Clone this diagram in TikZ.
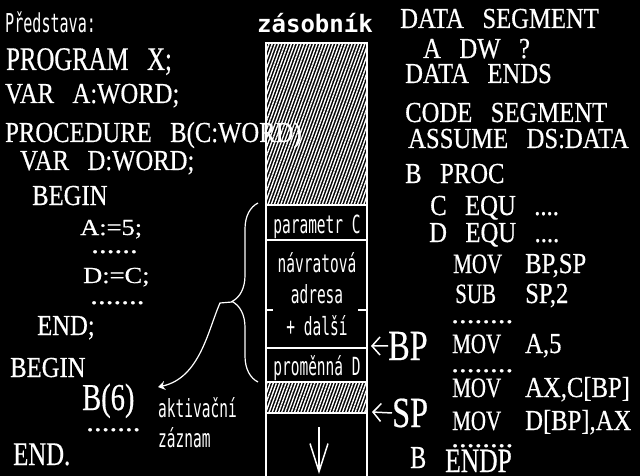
\documentclass[tikz,border=0pt]{standalone}
\usepackage{fontspec}
\usepackage{tikz}
\usetikzlibrary{decorations.pathreplacing, arrows.meta, patterns.meta}

\newfontfamily\serA[FakeStretch=0.75,FakeBold=0.5,WordSpace=3]{Liberation Serif}
\newfontfamily\serB[FakeStretch=0.85,FakeBold=0.5,WordSpace=3]{Liberation Serif}
\newfontfamily\serC[FakeStretch=1.15,FakeBold=0.5]{Liberation Serif}
\newfontfamily\lblfont[FakeStretch=0.58]{DejaVu Sans Mono}
\newfontfamily\stackfont{DejaVu Sans Mono}

\begin{document}
\begin{tikzpicture}[x=1pt, y=1pt, color=white,
		codeA/.style={anchor=base west, inner sep=0pt, font=\serA\fontsize{33}{33}\selectfont},
		codeB/.style={anchor=base west, inner sep=0pt, font=\serB\fontsize{29}{29}\selectfont},
		codeC/.style={anchor=base west, inner sep=0pt, font=\serC\fontsize{23}{23}\selectfont},
		mnem/.style={anchor=base west, inner sep=0pt, font=\serA\fontsize{28}{28}\selectfont},
		dots/.style={anchor=base west, inner sep=0pt, font=\serC\fontsize{27}{27}\selectfont},
		reg/.style={anchor=base west, inner sep=0pt, font=\serA\fontsize{43}{43}\selectfont},
		lbl/.style={anchor=base, inner sep=0pt, font=\lblfont\fontsize{25}{25}\selectfont},
		cellline/.style={line width=2pt},
		hatch/.style={pattern={Lines[angle=70, distance=3pt, line width=1.4pt]}, pattern color=white},
		ptr/.style={-{Straight Barb[length=8pt, width=18pt]}, line width=1.5pt},
		link/.style={-{Stealth[length=7pt, width=9pt]}, line width=1.2pt}
		]
		% Black screen
		\fill[black] (0,0) rectangle (640,-476);
		\useasboundingbox (0,0) rectangle (640,-476);
		% Pascal program
		\node[lbl, anchor=base west, font=\lblfont\fontsize{26}{26}\selectfont] (intro) at (5,-33) {Představa:};
		\foreach \txt/\x/\y/\sty [count=\i] in {
			{PROGRAM X;}/6/70/codeA,
			{VAR A:WORD;}/5/103/codeB,
			{PROCEDURE B(C:WORD)}/5/142/codeB,
			{VAR D:WORD;}/20/170/codeB,
			{BEGIN}/32/205/codeB,
			{A:=5;}/80/235/codeC,
			{D:=C;}/83/283/codeC,
			{END;}/37/335/codeB,
			{BEGIN}/10/377/codeB,
			{END.}/13/465/codeA} {
			\node[\sty] (pas\i) at (\x,-\y) {\txt};
		}
		\node[codeA, font=\serA\fontsize{38}{38}\selectfont] (call) at (82,-410) {B(6)};
		% Dotted gaps
		\foreach \x/\y/\txt [count=\i] in {91/253/{......}, 90/304/{.......}, 86/431/{.......},
			451/323/{........}, 451/372/{........}, 451/447/{........}} {
			\node[dots] (gap\i) at (\x,-\y) {\txt};
		}
		% Assembler version
		\foreach \txt/\x/\y [count=\i] in {
			{DATA SEGMENT}/400/28,
			{A DW ?}/423/58,
			{DATA ENDS}/405/83,
			{CODE SEGMENT}/405/122,
			{ASSUME DS:DATA}/408/148,
			{B PROC}/405/183,
			{C EQU ....}/430/215,
			{D EQU ....}/429/242} {
			\node[codeB] (asm\i) at (\x,-\y) {\txt};
		}
		\foreach \m/\op/\x/\y [count=\i] in {MOV/{BP,SP}/453/273, SUB/{SP,2}/455/303, MOV/{A,5}/452/353,
			MOV/{AX,C[BP]}/452/397, MOV/{D[BP],AX}/452/430} {
			\node[mnem] (mn\i) at (\x,-\y) {\m};
			\node[codeB] (op\i) at (525,-\y) {\op};
		}
		\node[codeA, font=\serA\fontsize{32}{32}\selectfont] (endB) at (410,-468) {B};
		\node[codeA, font=\serA\fontsize{34}{34}\selectfont] (endp) at (445,-472) {ENDP};
		% Stack
		\node[anchor=base west, inner sep=0pt, font=\stackfont\bfseries\fontsize{24}{24}\selectfont] (title) at (257,-33) {zásobník};
		\draw[line width=1.5pt] (266,-476) -- (266,-43) -- (367,-43) -- (367,-476);
		\fill[hatch] (267,-45) rectangle (366,-204);
		\fill[hatch] (267,-383) rectangle (366,-412);
		\foreach \y in {205,240,348,382,413}
			\draw[cellline] (266,-\y) -- (367,-\y);
		\draw[line width=1.5pt] (266,-310) -- (273,-310) (358,-310) -- (367,-310);
		\draw[-{Straight Barb[length=28pt, width=18pt]}, line width=1.5pt] (319,-427) -- (319,-474);
		\node[lbl] (cellC) at (317,-233) {parametr C};
		\node[lbl] (ret1) at (317,-272) {návratová};
		\node[lbl] (ret2) at (317,-303) {adresa};
		\node[lbl] (ret3) at (317,-335) {+ další};
		\node[lbl] (cellD) at (317,-375) {proměnná D};
		% Registers
		\node[reg] (BP) at (388,-360) {BP};
		\node[reg] (SP) at (392,-427) {SP};
		\coordinate (bpTip) at (371,-346);
		\coordinate (spTip) at (372,-412);
		\draw[ptr] (BP.west) -- (bpTip);
		\draw[ptr] (SP.west) -- (spTip);
		% Activation record
		\draw[decorate, decoration={brace, amplitude=26pt, aspect=0.45}, line width=1.2pt] (258,-382) -- (258,-203);
		\node[lbl, anchor=base west] (akt) at (158,-417) {aktivační};
		\node[lbl, anchor=base west] (zaz) at ([yshift=-30pt]akt.base west) {záznam};
		\coordinate (tip) at (232,-302);
		\coordinate (azEnd) at (158,-387);
		\draw[link] (tip) -- (220,-303) .. controls (208,-330) and (200,-378) .. (azEnd);
	\end{tikzpicture}
\end{document}
